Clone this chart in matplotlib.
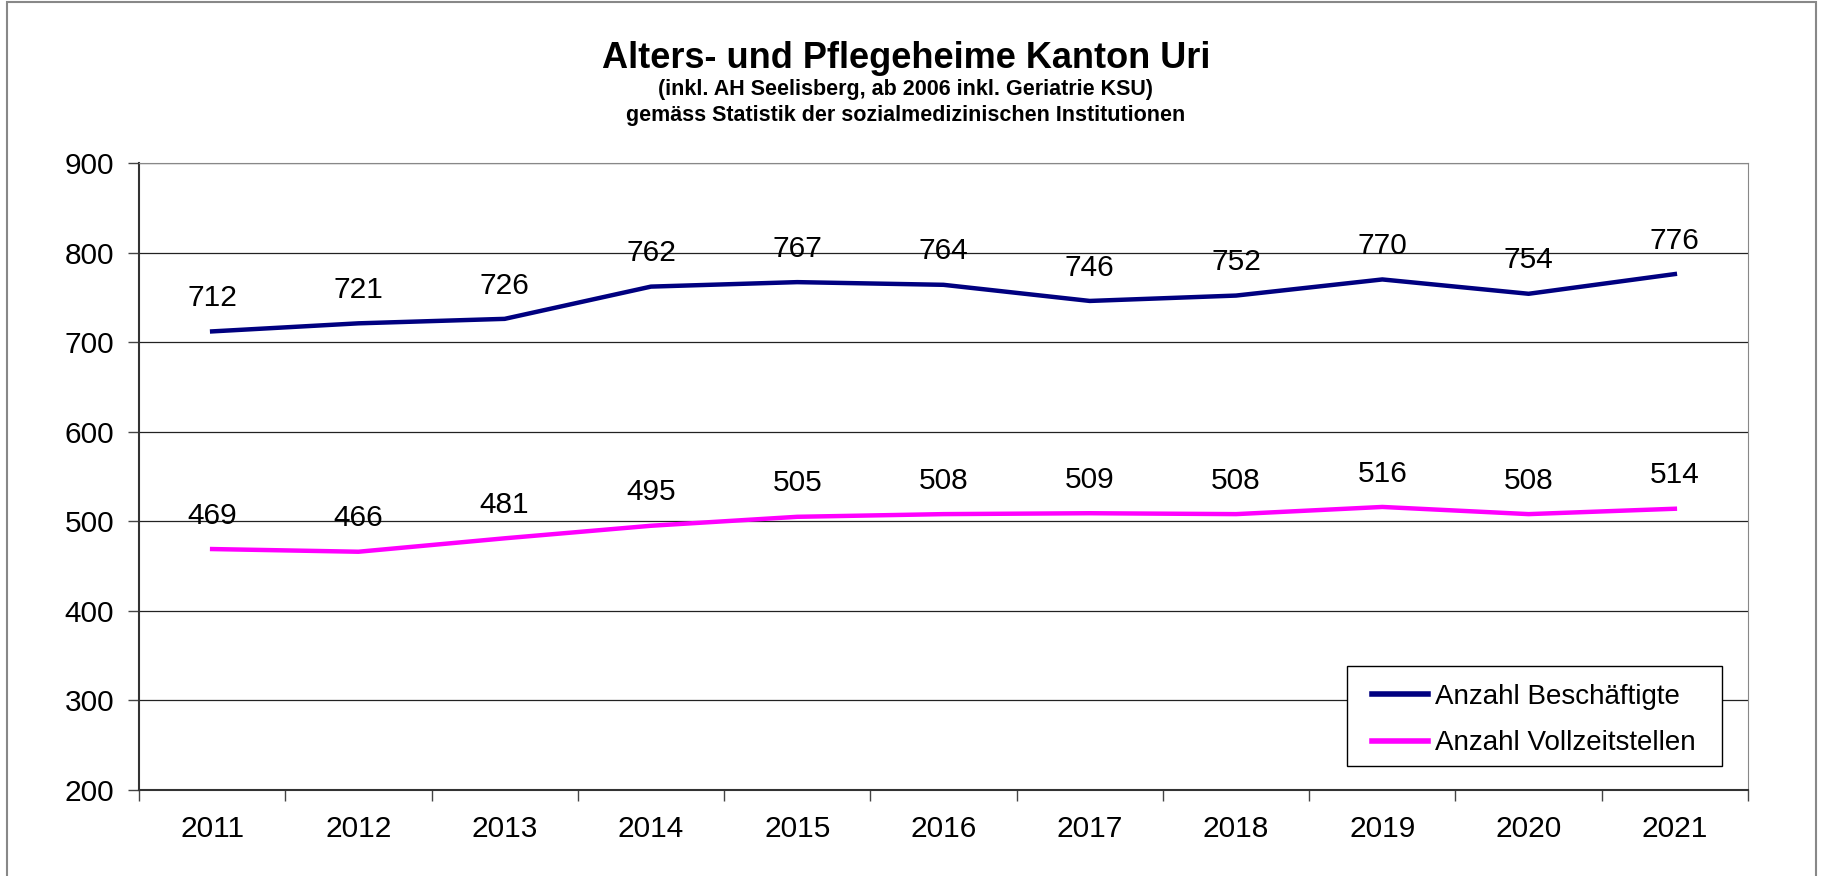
import matplotlib.pyplot as plt
from matplotlib.patches import Rectangle

years = ["2011", "2012", "2013", "2014", "2015", "2016", "2017", "2018", "2019", "2020", "2021"]
beschaeftigte = [712, 721, 726, 762, 767, 764, 746, 752, 770, 754, 776]
vollzeitstellen = [469, 466, 481, 495, 505, 508, 509, 508, 516, 508, 514]

plt.rcParams['font.family'] = ['Liberation Sans', 'DejaVu Sans']

W, H = 1821, 876
fig = plt.figure(figsize=(W / 100, H / 100), dpi=100)
ax = fig.add_axes([139 / W, 1 - 790 / H, (1748 - 139) / W, (790 - 163) / H])

x = list(range(len(years)))
ax.plot(x, beschaeftigte, color='#000080', lw=3.2, label='Anzahl Beschäftigte', zorder=3)
ax.plot(x, vollzeitstellen, color='#FF00FF', lw=3.2, label='Anzahl Vollzeitstellen', zorder=3)

# Datenbeschriftung ueber den Punkten
for xi, v in zip(x, beschaeftigte):
    ax.annotate(str(v), (xi, v), xytext=(0, 24), textcoords='offset points',
                ha='center', va='center', fontsize=21.5)
for xi, v in zip(x, vollzeitstellen):
    ax.annotate(str(v), (xi, v), xytext=(0, 24), textcoords='offset points',
                ha='center', va='center', fontsize=21.5)

ax.set_xlim(-0.5, len(years) - 0.5)
ax.set_ylim(200, 900)
ax.set_yticks(range(200, 901, 100))
ax.tick_params(axis='y', labelsize=21.5, length=8, width=1, color='#444444', pad=10)
ax.set_xticks(x)
ax.set_xticklabels(years)
ax.set_xticks([i - 0.5 for i in range(len(years) + 1)], minor=True)
ax.tick_params(axis='x', which='major', length=0, labelsize=21.5, pad=18)
ax.tick_params(axis='x', which='minor', length=8, width=1, color='#444444')
ax.grid(axis='y', color='#222222', lw=0.9)
ax.set_axisbelow(True)
ax.spines['left'].set_color('#333333')
ax.spines['bottom'].set_color('#333333')
ax.spines['left'].set_linewidth(1.5)
ax.spines['bottom'].set_linewidth(1.5)
ax.spines['top'].set_color('#888888')
ax.spines['right'].set_color('#888888')

# Legendenrahmen separat (mehr Rand links/rechts als oben/unten)
ax.add_patch(Rectangle((1347 / W, 1 - 766 / H), (1722 - 1347) / W, 100 / H,
                       transform=fig.transFigure, facecolor='white', edgecolor='black',
                       lw=1.0, zorder=4, clip_on=False))
leg = ax.legend(loc='center', bbox_to_anchor=(1534 / W, 1 - 720 / H),
                bbox_transform=fig.transFigure, fontsize=20, frameon=False,
                handlelength=2.0, handletextpad=0.25, borderpad=0.0,
                labelspacing=0.75, borderaxespad=0)
leg.set_zorder(5)
for line in leg.get_lines():
    line.set_linewidth(4)

fig.text(906 / W, 1 - 58 / H, "Alters- und Pflegeheime Kanton Uri",
         ha='center', va='center', fontsize=26, fontweight='bold')
fig.text(906 / W, 1 - 90 / H, "(inkl. AH Seelisberg, ab 2006 inkl. Geriatrie KSU)",
         ha='center', va='center', fontsize=15.5, fontweight='bold')
fig.text(906 / W, 1 - 115 / H, "gemäss Statistik der sozialmedizinischen Institutionen",
         ha='center', va='center', fontsize=15.5, fontweight='bold')

fig.patches.append(Rectangle((7 / W, -0.01), (1816 - 7) / W, 1.0 - 2 / H + 0.01,
                             transform=fig.transFigure, fill=False, edgecolor='#888888', lw=1.5))

fig.savefig("out.png", dpi=100)
